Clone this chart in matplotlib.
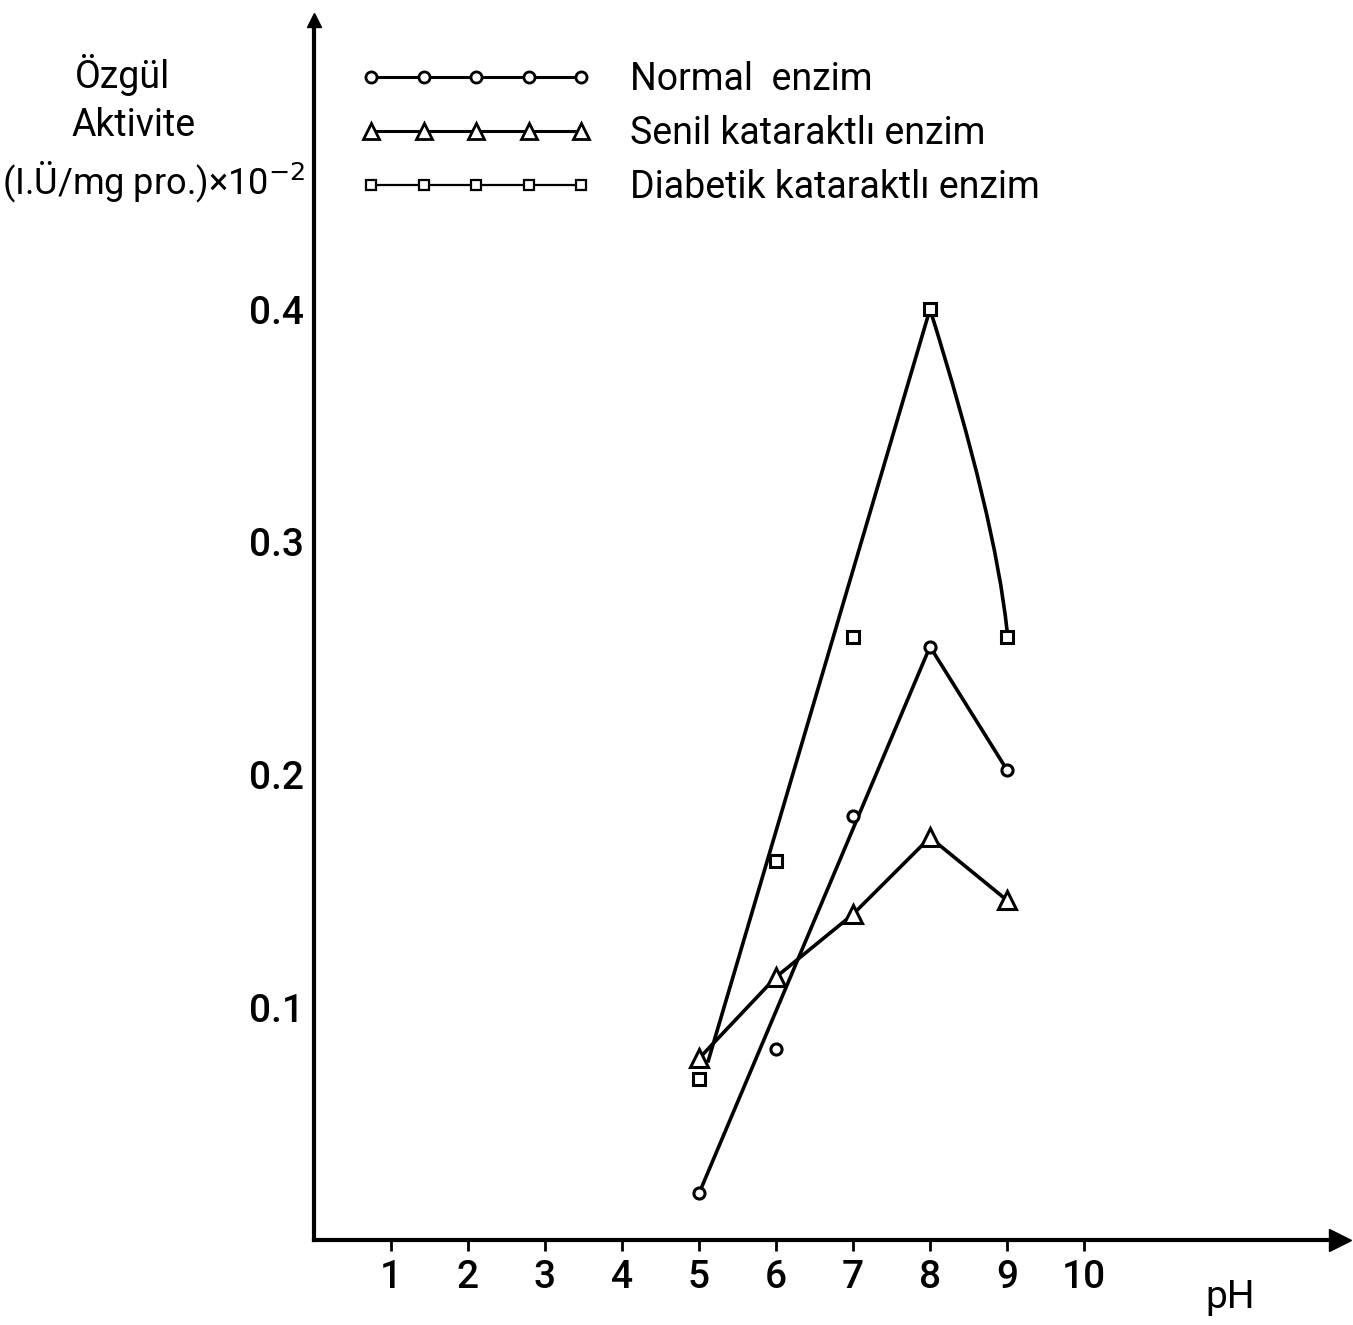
import matplotlib
matplotlib.use("Agg")
import matplotlib.pyplot as plt
from matplotlib.path import Path
from matplotlib.patches import PathPatch

plt.rcParams['font.family'] = ['Roboto', 'DejaVu Sans']

# pH values and specific activity
ph = [5, 6, 7, 8, 9]
normal_vals = [0.020, 0.082, 0.182, 0.255, 0.202]
senil_vals = [0.078, 0.113, 0.140, 0.173, 0.146]
diabetik_vals = [0.069, 0.163, 0.259, 0.400, 0.259]

# hand drawn lines through the points
normal_line_ph = [5, 8, 9]
normal_line_vals = [0.020, 0.255, 0.202]
senil_line_ph = ph
senil_line_vals = senil_vals
diabetik_line_ph = [5.12, 8]
diabetik_line_vals = [0.077, 0.400]
# falling branch of the diabetic curve: start, bend, end
diabetik_curve_ph = [8, 8.85, 9]
diabetik_curve_vals = [0.400, 0.310, 0.262]

x_ticks = [1, 2, 3, 4, 5, 6, 7, 8, 9, 10]
y_ticks = [0.1, 0.2, 0.3, 0.4]
y_tick_labels = ['0.1', '0.2', '0.3', '0.4']

labels = ['Normal  enzim', 'Senil kataraktlı enzim', 'Diabetik kataraktlı enzim']

W, H = 1353, 1325
fig = plt.figure(figsize=(W / 100, H / 100), dpi=100)
# axes placed so x=0 sits at the vertical axis, y=0 at the horizontal axis
ax = fig.add_axes([314 / W, 1 - 1240 / H, 1026 / W, 1220 / H])
ax.set_xlim(0, 1026 / 77.0)
ax.set_ylim(0, 1220 / 2327.0)

for s in ['top', 'right']:
    ax.spines[s].set_visible(False)
for s in ['left', 'bottom']:
    ax.spines[s].set_linewidth(3)

# arrow heads
ax.plot(1, 0, '>', color='black', ms=16, transform=ax.transAxes, clip_on=False)
ax.plot(0, 1, '^', color='black', ms=10, transform=ax.transAxes, clip_on=False)

ax.set_xticks(x_ticks)
ax.set_xticklabels([str(v) for v in x_ticks], fontsize=28, fontweight='medium')
ax.tick_params(axis='x', direction='out', length=8, width=2, pad=6)
ax.set_yticks(y_ticks)
ax.set_yticklabels(y_tick_labels, fontsize=28, fontweight='medium')
ax.tick_params(axis='y', length=0, pad=7)

lw = 2.6
ax.plot(normal_line_ph, normal_line_vals, color='black', lw=lw, zorder=2)
ax.plot(senil_line_ph, senil_line_vals, color='black', lw=lw, zorder=2)
ax.plot(diabetik_line_ph, diabetik_line_vals, color='black', lw=lw, zorder=2)
curve = Path(list(zip(diabetik_curve_ph, diabetik_curve_vals)),
             [Path.MOVETO, Path.CURVE3, Path.CURVE3])
ax.add_patch(PathPatch(curve, fill=False, edgecolor='black', lw=lw, zorder=2))

ax.plot(ph, normal_vals, 'o', ms=8, mfc='white', mec='black', mew=2.2, zorder=3)
ax.plot(ph, senil_vals, '^', ms=13, mfc='white', mec='black', mew=2.2, zorder=3)
ax.plot(ph, diabetik_vals, 's', ms=9, mfc='white', mec='black', mew=2.2, zorder=3)

# legend handles
h1, = ax.plot([], [], '-o', color='black', lw=2.2, ms=8, mfc='white', mew=2)
h2, = ax.plot([], [], '-^', color='black', lw=2.2, ms=11, mfc='white', mew=2)
h3, = ax.plot([], [], '-s', color='black', lw=1.6, ms=7, mfc='white', mew=1.6)
fig.legend([h1, h2, h3], labels, loc='upper left',
           bbox_to_anchor=(360 / W, 1 - 61 / H), frameon=False,
           numpoints=5, handlelength=6.2, handletextpad=1.0,
           fontsize=27, labelspacing=0.45, borderpad=0, borderaxespad=0)

fig.text(1230 / W, 1 - 1297 / H, 'pH', fontsize=28, ha='center', va='center')

fig.text(75 / W, 1 - 75 / H, 'Özgül', fontsize=27, ha='left', va='center')
fig.text(72 / W, 1 - 125 / H, 'Aktivite', fontsize=27, ha='left', va='center')
fig.text(2 / W, 1 - 182 / H, '(I.Ü/mg pro.)×10$^{-2}$', fontsize=26, ha='left', va='center')

fig.savefig('out.png', dpi=100)
